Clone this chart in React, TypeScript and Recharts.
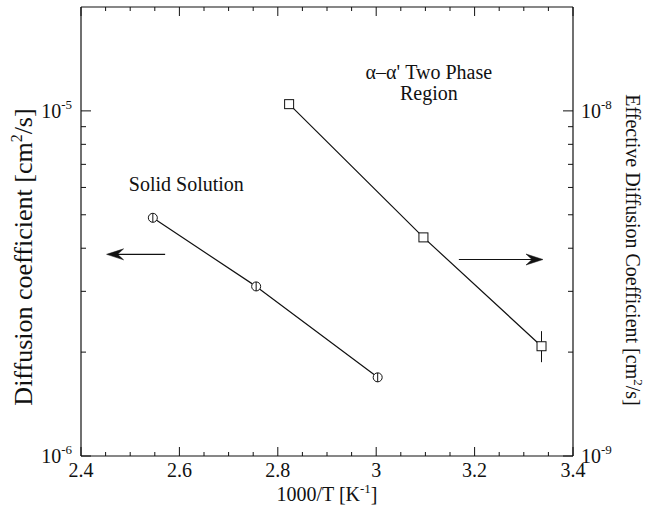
import React from 'react';
import {
  ComposedChart,
  Scatter,
  XAxis,
  YAxis,
  ErrorBar,
  ReferenceLine,
  ReferenceDot,
} from 'recharts';

// ---- data ----
const solidX = [2.546, 2.756, 3.003];
const solidD = [4.9e-6, 3.1e-6, 1.69e-6];

const twoPhaseX = [2.823, 3.096, 3.336];
const twoPhaseD = [1.046e-8, 4.3e-9, 2.08e-9];
const twoPhaseErrLow = [0, 0, 0.21e-9];
const twoPhaseErrHigh = [0, 0, 0.22e-9];

const xTicks = [
  2.4, 2.45, 2.5, 2.55, 2.6, 2.65, 2.7, 2.75, 2.8, 2.85, 2.9, 2.95, 3.0,
  3.05, 3.1, 3.15, 3.2, 3.25, 3.3, 3.35, 3.4,
];
const xMajorTicks = [2.4, 2.6, 2.8, 3.0, 3.2, 3.4];
const xTickLabels = ['2.4', '2.6', '2.8', '3', '3.2', '3.4'];

const leftTicks = [1e-6, 2e-6, 3e-6, 4e-6, 5e-6, 6e-6, 7e-6, 8e-6, 9e-6, 1e-5];
const leftMajor = [1e-6, 1e-5];
const leftLabels = ['-6', '-5'];

const rightTicks = [1e-9, 2e-9, 3e-9, 4e-9, 5e-9, 6e-9, 7e-9, 8e-9, 9e-9, 1e-8];
const rightMajor = [1e-9, 1e-8];
const rightLabels = ['-9', '-8'];

const solidData = solidX.map((x, i) => ({ x, y: solidD[i] }));
const twoPhaseData = twoPhaseX.map((x, i) => ({
  x,
  y: twoPhaseD[i],
  err: [twoPhaseErrLow[i], twoPhaseErrHigh[i]],
}));

const SERIF = '"Liberation Serif", "Times New Roman", serif';
const INK = '#111';
const FS = 20;

const near = (a: number, b: number) => Math.abs(a / b - 1) < 1e-6;

const XTickBottom = (props: any) => {
  const { x, y, payload } = props;
  const v = payload.value;
  const idx = xMajorTicks.findIndex((m) => Math.abs(m - v) < 1e-6);
  const major = idx >= 0;
  return (
    <g>
      <line x1={x} x2={x} y1={y} y2={y - (major ? 9 : 4)} stroke={INK} strokeWidth={1} />
      {major && (
        <text x={x} y={y + 21} textAnchor="middle" fontSize={FS} fontFamily={SERIF} fill={INK}>
          {xTickLabels[idx]}
        </text>
      )}
    </g>
  );
};

const XTickTop = (props: any) => {
  const { x, y, payload } = props;
  const v = payload.value;
  const major = xMajorTicks.some((m) => Math.abs(m - v) < 1e-6);
  return <line x1={x} x2={x} y1={y} y2={y + (major ? 9 : 4)} stroke={INK} strokeWidth={1} />;
};

const makeYTick = (majors: number[], labels: string[], side: 'left' | 'right') => (props: any) => {
  const { x, y, payload } = props;
  const v = payload.value;
  const idx = majors.findIndex((m) => near(v, m));
  const major = idx >= 0;
  const dir = side === 'left' ? 1 : -1;
  return (
    <g>
      <line x1={x} x2={x + dir * (major ? 10 : 5)} y1={y} y2={y} stroke={INK} strokeWidth={1} />
      {major && (
        <text
          x={side === 'left' ? x - 9 : x + 8}
          y={y + 7}
          textAnchor={side === 'left' ? 'end' : 'start'}
          fontSize={FS}
          fontFamily={SERIF}
          fill={INK}
        >
          <tspan>10</tspan>
          <tspan dy={-9} fontSize={13}>
            {labels[idx]}
          </tspan>
        </text>
      )}
    </g>
  );
};

const LeftTick = makeYTick(leftMajor, leftLabels, 'left');
const RightTick = makeYTick(rightMajor, rightLabels, 'right');

const CircleMark = (props: any) => {
  const { cx, cy } = props;
  if (cx == null || cy == null) return null;
  return (
    <g>
      <circle cx={cx} cy={cy} r={4.5} fill="#fff" stroke={INK} strokeWidth={1} />
      <line x1={cx} x2={cx} y1={cy - 4.5} y2={cy + 4.5} stroke={INK} strokeWidth={1} />
    </g>
  );
};

const SquareMark = (props: any) => {
  const { cx, cy } = props;
  if (cx == null || cy == null) return null;
  return <rect x={cx - 4.5} y={cy - 4.5} width={9} height={9} fill="#fff" stroke={INK} strokeWidth={1} />;
};

const Arrow = (props: any) => {
  const { x1, y1, x2, y2 } = props;
  if ([x1, y1, x2, y2].some((v) => v == null || Number.isNaN(v))) return null;
  const dir = x2 > x1 ? 1 : -1;
  const tip = x2;
  return (
    <g>
      <line x1={x1} y1={y1} x2={tip - dir * 8} y2={y2} stroke={INK} strokeWidth={1.2} />
      <path
        d={`M ${tip} ${y2} L ${tip - dir * 17} ${y2 - 5.5} L ${tip - dir * 11} ${y2} L ${tip - dir * 17} ${y2 + 5.5} Z`}
        fill={INK}
        stroke={INK}
        strokeWidth={0.5}
      />
    </g>
  );
};

const textShape = (lines: string[]) => (props: any) => {
  const { cx, cy } = props;
  if (cx == null || cy == null) return <g />;
  return (
    <text x={cx} y={cy} textAnchor="middle" fontSize={FS} fontFamily={SERIF} fill={INK}>
      {lines.map((l, i) => (
        <tspan key={i} x={cx} dy={i === 0 ? 0 : 21}>
          {l}
        </tspan>
      ))}
    </text>
  );
};

export default function App() {
  return (
    <div style={{ position: 'absolute', left: 0, top: 0, background: '#fff' }}>
      <ComposedChart
        width={655}
        height={512}
        margin={{ top: 6, right: 81, bottom: 55, left: 80 }}
        style={{ background: '#fff' }}
      >
        <XAxis
          xAxisId="bottom"
          type="number"
          dataKey="x"
          domain={[2.4, 3.4]}
          allowDataOverflow
          ticks={xTicks}
          interval={0}
          height={1}
          tickSize={0}
          tickMargin={0}
          tickLine={false}
          axisLine={{ stroke: INK, strokeWidth: 1.2 }}
          tick={<XTickBottom />}
          label={{
            content: () => (
              <text x={327} y={501} textAnchor="middle" fontSize={FS} fontFamily={SERIF} fill={INK}>
                <tspan>1000/T [K</tspan>
                <tspan dy={-8} fontSize={13}>-1</tspan>
                <tspan dy={8}>]</tspan>
              </text>
            ),
          }}
        />
        <XAxis
          xAxisId="top"
          orientation="top"
          type="number"
          dataKey="x"
          domain={[2.4, 3.4]}
          allowDataOverflow
          ticks={xTicks}
          interval={0}
          height={1}
          tickSize={0}
          tickMargin={0}
          tickLine={false}
          axisLine={{ stroke: INK, strokeWidth: 1.2 }}
          tick={<XTickTop />}
        />
        <YAxis
          yAxisId="left"
          type="number"
          scale="log"
          dataKey="y"
          domain={[1e-6, 2e-5]}
          allowDataOverflow
          ticks={leftTicks}
          interval={0}
          width={1}
          tickSize={0}
          tickMargin={0}
          tickLine={false}
          axisLine={{ stroke: INK, strokeWidth: 1.2 }}
          tick={<LeftTick />}
          label={{
            content: () => (
              <text
                x={32}
                y={257}
                transform="rotate(-90 32 257)"
                textAnchor="middle"
                fontSize={26}
                fontFamily={SERIF}
                fill={INK}
              >
                <tspan>Diffusion coefficient [cm</tspan>
                <tspan dy={-10} fontSize={16}>2</tspan>
                <tspan dy={10}>/s]</tspan>
              </text>
            ),
          }}
        />
        <YAxis
          yAxisId="right"
          orientation="right"
          type="number"
          scale="log"
          dataKey="y"
          domain={[1e-9, 2e-8]}
          allowDataOverflow
          ticks={rightTicks}
          interval={0}
          width={1}
          tickSize={0}
          tickMargin={0}
          tickLine={false}
          axisLine={{ stroke: INK, strokeWidth: 1.2 }}
          tick={<RightTick />}
          label={{
            content: () => (
              <text
                x={626}
                y={250}
                transform="rotate(90 626 250)"
                textAnchor="middle"
                fontSize={FS}
                fontFamily={SERIF}
                fill={INK}
              >
                <tspan>Effective Diffusion Coefficient [cm</tspan>
                <tspan dy={-8} fontSize={13}>2</tspan>
                <tspan dy={8}>/s]</tspan>
              </text>
            ),
          }}
        />

        <Scatter
          name="Solid Solution"
          data={solidData}
          xAxisId="bottom"
          yAxisId="left"
          fill="#fff"
          line={{ stroke: INK, strokeWidth: 1.2 }}
          shape={<CircleMark />}
          isAnimationActive={false}
        />
        <Scatter
          name="Two Phase"
          data={twoPhaseData}
          xAxisId="bottom"
          yAxisId="right"
          fill="#fff"
          line={{ stroke: INK, strokeWidth: 1.2 }}
          shape={<SquareMark />}
          isAnimationActive={false}
        >
          <ErrorBar dataKey="err" direction="y" width={0} stroke={INK} strokeWidth={1} isAnimationActive={false} />
        </Scatter>

        <ReferenceLine
          xAxisId="bottom"
          yAxisId="left"
          segment={[
            { x: 2.571, y: 3.84e-6 },
            { x: 2.452, y: 3.84e-6 },
          ]}
          shape={(p: any) => <Arrow {...p} />}
        />
        <ReferenceLine
          xAxisId="bottom"
          yAxisId="right"
          segment={[
            { x: 3.168, y: 3.71e-9 },
            { x: 3.339, y: 3.71e-9 },
          ]}
          shape={(p: any) => <Arrow {...p} />}
        />

        <ReferenceDot
          xAxisId="bottom"
          yAxisId="left"
          x={2.614}
          y={5.85e-6}
          r={0}
          shape={textShape(['Solid Solution'])}
        />
        <ReferenceDot
          xAxisId="bottom"
          yAxisId="right"
          x={3.107}
          y={1.239e-8}
          r={0}
          shape={textShape(['\u03b1\u2013\u03b1\' Two Phase', 'Region'])}
        />
      </ComposedChart>
    </div>
  );
}
